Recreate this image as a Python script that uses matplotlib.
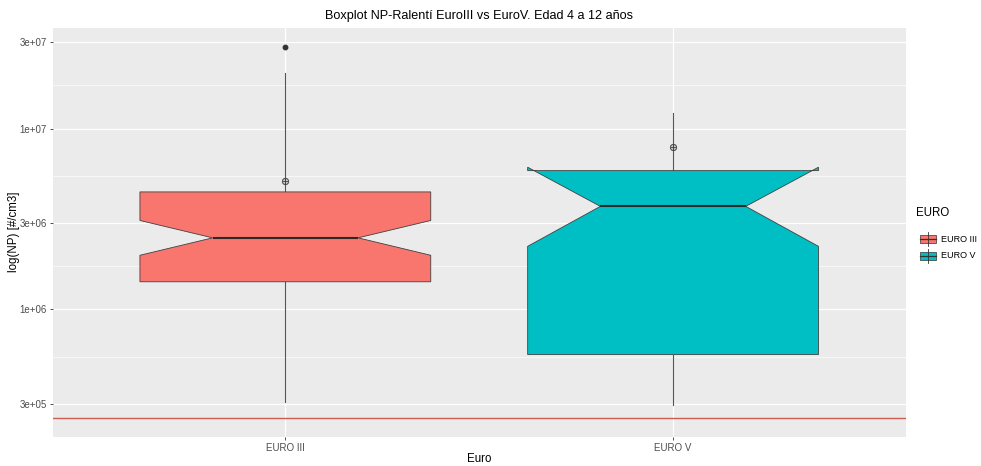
import numpy as np
import matplotlib
matplotlib.use("Agg")
import matplotlib.pyplot as plt
from matplotlib.patches import Rectangle
from matplotlib.lines import Line2D
from matplotlib.ticker import FixedLocator, NullFormatter

plt.rcParams['font.family'] = ['Liberation Sans', 'DejaVu Sans']

# ---- data: NP concentration at idle, by Euro standard (vehicles aged 4-12 years)
groups = ["EURO III", "EURO V"]
fills = ["#F8766D", "#00BFC4"]
whisker_low = [3.07e5, 2.95e5]
q1 = [1.42e6, 5.62e5]
median = [2.485e6, 3.71e6]
q3 = [4.46e6, 5.85e6]
whisker_high = [2.02e7, 1.226e7]
notch_low = [1.99e6, 2.23e6]
notch_high = [3.10e6, 6.11e6]
means = [5.10e6, 7.86e6]
outliers = [[2.83e7], []]
reference_level = 2.5e5
y_breaks = [3e5, 1e6, 3e6, 1e7, 3e7]
y_labels = ["3e+05", "1e+06", "3e+06", "1e+07", "3e+07"]

W, H = 981, 466
fig = plt.figure(figsize=(W / 100, H / 100), dpi=100)

def fx(px):
    return px / W

def fy(py):
    return 1 - py / H

left, right, top, bottom = 52.7, 905.7, 28.3, 436.7
ax = fig.add_axes([fx(left), fy(bottom), fx(right - left), (bottom - top) / H])
ax.set_facecolor("#EBEBEB")
for s in ax.spines.values():
    s.set_visible(False)

dark = "#333333"
positions = np.arange(1, len(groups) + 1)
stats = []
for i in range(len(groups)):
    stats.append(dict(med=median[i], q1=q1[i], q3=q3[i],
                      whislo=whisker_low[i], whishi=whisker_high[i],
                      cilo=notch_low[i], cihi=notch_high[i],
                      mean=means[i], fliers=np.array(outliers[i])))

ax.set_yscale("log")
bp = ax.bxp(stats, positions=positions, widths=0.75, shownotches=True,
            patch_artist=True, showcaps=False, showmeans=True,
            boxprops=dict(edgecolor="#404040", linewidth=0.6),
            medianprops=dict(color="#2a2a2a", linewidth=1.5),
            whiskerprops=dict(color="#555555", linewidth=0.8),
            flierprops=dict(marker="o", markersize=3.2, markerfacecolor=dark,
                            markeredgecolor=dark),
            meanprops=dict(marker=r"$\oplus$", markersize=5,
                           markerfacecolor="#444444", markeredgecolor="#444444",
                           markeredgewidth=0.2))
for patch, c in zip(bp["boxes"], fills):
    patch.set_facecolor(c)
for wl in bp["whiskers"]:
    wl.set_zorder(1.5)
for b in bp["boxes"]:
    b.set_zorder(2)
for m in bp["medians"]:
    m.set_zorder(2.5)

ax.axhline(reference_level, color="#CF5B55", linewidth=1.0, zorder=3)

# scales
lo = np.log10(min(reference_level, min(whisker_low)))
hi = np.log10(max(max(o) if o else 0 for o in outliers))
pad = 0.05 * (hi - lo)
ax.set_ylim(10 ** (lo - pad), 10 ** (hi + pad))
ax.set_xlim(0.4, len(groups) + 0.6)

ax.yaxis.set_major_locator(FixedLocator(y_breaks))
ax.set_yticklabels(y_labels)
lb = np.log10(y_breaks)
minor = 10 ** ((lb[:-1] + lb[1:]) / 2)
ax.yaxis.set_minor_locator(FixedLocator(minor))
ax.yaxis.set_minor_formatter(NullFormatter())
ax.set_xticks(positions)
ax.set_xticklabels(groups)

ax.grid(True, which="major", color="white", linewidth=0.9)
ax.grid(True, which="minor", axis="y", color="white", linewidth=0.45)
ax.set_axisbelow(True)
ax.tick_params(which="major", length=2.2, width=0.6, color=dark,
               labelsize=7.0, labelcolor="#4D4D4D", pad=2.0)
ax.tick_params(which="minor", length=0)

fig.text(fx(479), fy(16), "Boxplot NP-Ralentí EuroIII vs EuroV. Edad 4 a 12 años",
         ha="center", va="center", fontsize=9.1, color="black")
fig.text(fx(479), fy(459), "Euro", ha="center", va="center", fontsize=8.3)
fig.text(fx(14), fy(232), "log(NP) [#/cm3]", ha="center", va="center",
         rotation=90, fontsize=8.3)

# legend
fig.text(fx(916), fy(213), "EURO", ha="left", va="center", fontsize=8.3)
key_y = [239, 256]
for c, lab, ky in zip(fills, groups, key_y):
    cx = 928
    fig.add_artist(Line2D([fx(cx), fx(cx)], [fy(ky - 7), fy(ky + 7)],
                          transform=fig.transFigure, color=dark, lw=0.6))
    fig.add_artist(Rectangle((fx(cx - 8), fy(ky + 4)), fx(16), 8 / H,
                             transform=fig.transFigure, facecolor=c,
                             edgecolor=dark, lw=0.5))
    fig.add_artist(Line2D([fx(cx - 8), fx(cx + 8)], [fy(ky), fy(ky)],
                          transform=fig.transFigure, color=dark, lw=0.9))
    fig.text(fx(941), fy(ky), lab, ha="left", va="center", fontsize=6.5,
             color="black")

fig.savefig("out.png", dpi=100)
